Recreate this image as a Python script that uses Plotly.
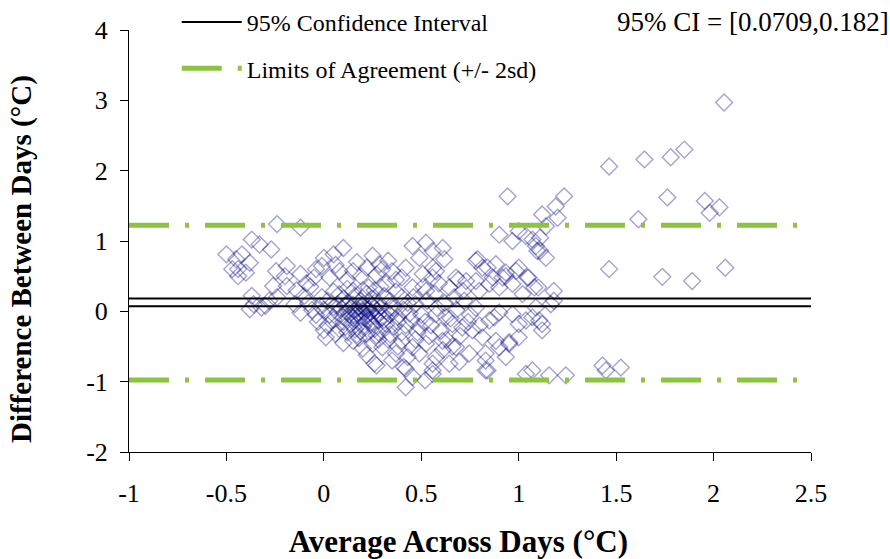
import plotly.graph_objects as go

# ---- data ----
left_x = [-0.50,-0.45,-0.42,-0.38,-0.44,-0.44,-0.37,-0.33,-0.27,-0.24,-0.12,-0.245,-0.19,-0.20,-0.12,-0.26,-0.19,-0.04,-0.01,-0.05,
          -0.37,-0.36,-0.38,-0.32,-0.28,-0.24,-0.47,-0.40,-0.30,-0.14,-0.10,-0.08,-0.06,-0.04,-0.02,-0.03,-0.01,-0.07,-0.15,-0.12,-0.09]
left_y = [0.81,0.74,0.81,0.69,0.60,0.50,1.02,0.95,0.88,1.24,1.19,0.57,0.645,0.50,0.53,0.36,0.36,0.60,0.645,0.48,
          0.22,0.10,0.03,0.055,0.15,0.20,0.60,0.55,0.08,0.30,0.22,0.12,0.02,-0.05,0.08,-0.15,0.20,0.35,0.10,-0.02,0.40]

cluster_x = [0.10,0.05,0.00,0.25,0.285,0.22,0.15,0.08,0.03,0.35,0.40,0.32,0.23,0.15,0.08,0.455,0.12,0.19,0.27,0.37,0.30,0.17,0.06,0.33,0.42,
             0.02,0.05,0.10,0.13,0.16,0.19,0.22,0.25,0.28,0.31,0.34,0.37,0.40,0.43,0.07,0.20,0.26,0.35,0.12,0.29,
             0.00,0.03,0.05,0.07,0.09,0.10,0.11,0.12,0.13,0.14,0.15,0.16,0.17,0.18,0.19,0.20,0.21,0.22,0.23,0.24,
             0.25,0.26,0.27,0.28,0.29,0.30,0.32,0.34,0.36,0.38,0.41,0.44,0.15,0.21,0.24,0.18,0.22,0.26,0.16,0.20,
             0.02,0.05,0.08,0.10,0.12,0.14,0.16,0.18,0.20,0.22,0.24,0.26,0.28,0.30,0.32,0.34,0.36,0.38,0.40,0.42,
             0.45,0.11,0.17,0.23,0.27,0.31,0.19,0.25,0.06,0.00,
             0.01,0.15,0.25,0.20,0.30,0.40,0.455,0.37,0.27,0.41,0.26,0.10,0.33,0.22,0.35,0.43,0.18,0.28,0.38,
             0.42,0.455,0.52,0.42]
cluster_y = [0.90,0.81,0.76,0.79,0.67,0.62,0.57,0.57,0.48,0.57,0.48,0.39,0.34,0.29,0.245,0.34,0.45,0.50,0.52,0.45,0.60,0.70,0.66,0.72,0.62,
             0.15,0.28,0.18,0.12,0.22,0.15,0.25,0.18,0.12,0.22,0.15,0.28,0.20,0.12,0.10,0.30,0.30,0.05,0.32,0.35,
             0.02,-0.05,0.06,-0.02,0.04,-0.08,0.08,0.00,-0.05,0.05,-0.10,0.02,-0.03,0.07,-0.08,0.00,0.05,-0.06,0.03,-0.02,
             0.08,-0.07,0.01,-0.04,0.06,-0.09,0.00,-0.05,0.04,-0.08,0.02,-0.03,0.09,-0.10,0.10,-0.01,0.02,0.04,-0.06,0.08,
             -0.20,-0.12,-0.25,-0.15,-0.30,-0.18,-0.26,-0.14,-0.22,-0.32,-0.16,-0.25,-0.13,-0.28,-0.18,-0.33,-0.22,-0.15,-0.30,-0.20,
             -0.12,-0.22,-0.33,-0.12,-0.34,-0.12,-0.28,-0.20,-0.32,-0.27,
             -0.37,-0.42,-0.46,-0.53,-0.51,-0.42,-0.51,-0.60,-0.77,-0.79,-0.74,-0.45,-0.40,-0.62,-0.70,-0.65,-0.38,-0.40,-0.50,
             -1.08,-0.93,-0.98,-0.82]

middle_x = [0.455,0.524,0.558,0.49,0.507,0.558,0.524,0.524,0.49,0.558,0.558,
            0.61,0.618,0.78,0.814,0.883,0.934,1.0,1.05,1.10,0.678,0.73,0.78,0.866,0.917,0.575,0.644,0.712,0.797,0.849,
            0.90,0.968,1.02,1.088,0.874,0.968,1.037,1.12,0.575,0.627,0.66,0.71,0.763,0.814,0.883,0.951,1.0,0.609,0.678,
            0.746,0.83,0.934,0.575,0.644,0.695,0.83,1.037,1.07,0.558,
            0.943,0.90,0.968,1.037,1.088,1.11,
            0.47,0.50,0.53,0.55,0.58,0.60,0.62,0.65,0.68,0.70,0.72,0.75,0.48,0.52,0.57,0.63,0.67,0.74,0.78,0.46,
            0.51,0.54,0.59,0.66,0.69,0.80,0.49,0.61,0.47,0.56]
middle_y = [0.93,0.975,0.857,0.76,0.53,0.48,0.29,-0.46,-0.60,-0.745,-0.89,
            0.90,0.74,0.72,0.62,0.67,0.55,0.62,0.48,0.34,0.48,0.43,0.43,0.48,0.48,0.57,0.34,0.29,0.29,0.39,
            0.34,0.39,0.245,0.055,-0.086,-0.04,-0.13,-0.18,-0.04,-0.086,-0.18,-0.23,-0.27,-0.37,-0.42,-0.46,-0.37,-0.42,-0.51,
            -0.60,-0.60,-0.65,-0.65,-0.745,-0.72,-0.84,-0.89,-0.84,-0.84,
            1.635,1.09,1.0,1.07,0.93,0.86,
            0.10,-0.05,0.15,-0.20,0.05,-0.28,0.12,-0.10,0.02,-0.35,0.15,-0.05,-0.30,-0.15,0.25,-0.40,0.20,-0.15,0.05,0.20,
            0.35,-0.35,0.40,-0.50,0.45,-0.20,-0.22,-0.55,-0.40,0.62]

right_x = [1.233,1.19,1.12,1.20,1.14,1.07,1.0,1.096,1.14,1.11,1.045,1.08,1.18,1.18,1.165,1.07,1.12,1.0,0.90,0.849,
           0.951,0.90,0.83,0.84,1.156,1.242,1.43,1.447,1.524,1.105,0.789,0.84,0.986,0.934,
           1.464,1.645,1.78,1.85,2.054,1.763,1.955,1.98,2.03,1.614,1.464,1.737,1.89,2.06]
right_y = [1.635,1.49,1.376,1.33,1.21,1.02,1.14,0.857,0.76,1.045,0.48,0.34,0.29,0.15,0.10,-0.086,-0.27,-0.18,-0.015,-0.13,
           -0.44,-0.51,-0.70,-0.84,-0.91,-0.91,-0.77,-0.84,-0.80,-0.13,0.74,0.62,0.574,0.50,
           2.06,2.16,2.19,2.30,2.97,1.62,1.57,1.40,1.48,1.31,0.60,0.49,0.43,0.62]

avg_x = left_x + cluster_x + middle_x + right_x
diff_y = left_y + cluster_y + middle_y + right_y

ci_lower = 0.0709
ci_upper = 0.182
loa_upper = 1.225
loa_lower = -0.975
x_range = [-1, 2.5]
x_ticks = [-1, -0.5, 0, 0.5, 1, 1.5, 2, 2.5]
x_ticklabels = ["-1", "-0.5", "0", "0.5", "1", "1.5", "2", "2.5"]
y_ticks = [-2, -1, 0, 1, 2, 3, 4]
y_ticklabels = ["-2", "-1", "0", "1", "2", "3", "4"]

SERIF = "Liberation Serif"
green = "#8CC43F"
NB = "\u00a0"

fig = go.Figure()
fig.add_trace(go.Scatter(
    x=avg_x, y=diff_y, mode="markers", showlegend=False,
    marker=dict(symbol="diamond-open", size=13, color="rgba(0,0,128,0.36)",
                line=dict(width=1.4, color="rgba(0,0,128,0.36)"))))

fig.add_trace(go.Scatter(x=x_range, y=[ci_upper, ci_upper], mode="lines",
                         name="95% Confidence Interval", legendgroup="ci",
                         line=dict(color="black", width=2)))
fig.add_trace(go.Scatter(x=x_range, y=[ci_lower, ci_lower], mode="lines",
                         showlegend=False, legendgroup="ci",
                         line=dict(color="black", width=2)))
fig.add_trace(go.Scatter(x=x_range, y=[loa_upper, loa_upper], mode="lines",
                         name="Limits of Agreement (+/- 2sd)", legendgroup="loa",
                         line=dict(color=green, width=5, dash="40px,16px,4px,16px")))
fig.add_trace(go.Scatter(x=x_range, y=[loa_lower, loa_lower], mode="lines",
                         showlegend=False, legendgroup="loa",
                         line=dict(color=green, width=5, dash="40px,16px,4px,16px")))

fig.add_annotation(text="95% CI = [0.0709,0.182]", xref="paper", yref="paper",
                   x=1.118, y=1.019, xanchor="right", yanchor="middle", showarrow=False,
                   font=dict(family=SERIF, size=27, color="black"))

fig.update_layout(
    width=890, height=559,
    margin=dict(l=129, r=79, t=30, b=107, autoexpand=False),
    paper_bgcolor="white", plot_bgcolor="white",
    font=dict(family=SERIF, size=24, color="black"),
    legend=dict(x=0.07, y=1.0, xref="paper", yref="container", xanchor="left", yanchor="top",
                bgcolor="rgba(0,0,0,0)", font=dict(family=SERIF, size=24),
                tracegroupgap=12, itemwidth=60),
    xaxis=dict(range=x_range, tickvals=x_ticks, ticktext=x_ticklabels,
               showgrid=False, zeroline=False, showline=True, linecolor="black", linewidth=1,
               ticks="outside", ticklen=8, tickcolor="black", ticklabelstandoff=10,
               tickfont=dict(family=SERIF, size=26),
               title=dict(text="<b>Average Across Days (°C)" + NB * 3 + "</b>",
                          font=dict(family=SERIF, size=31), standoff=23)),
    yaxis=dict(range=[-2, 4], tickvals=y_ticks, ticktext=y_ticklabels,
               showgrid=False, zeroline=False, showline=True, linecolor="black", linewidth=1,
               ticks="outside", ticklen=8, tickcolor="black", ticklabelstandoff=7,
               tickfont=dict(family=SERIF, size=26),
               title=dict(text="<b>Difference Between Days (°C)" + NB * 5 + "</b>",
                          font=dict(family=SERIF, size=29), standoff=45)),
)

fig.write_html("out.html")
